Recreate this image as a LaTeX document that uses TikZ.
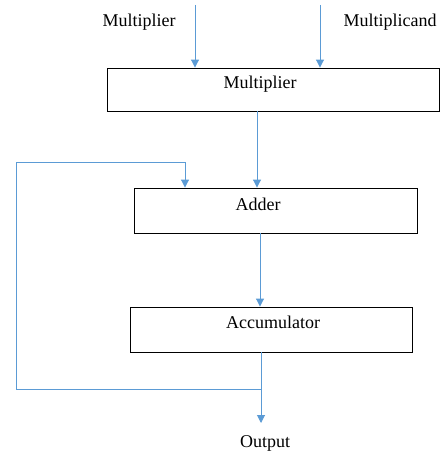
\documentclass[tikz,border=0pt]{standalone}
\usepackage{fontspec}
\setmainfont{Liberation Serif}
\usetikzlibrary{arrows.meta}
\definecolor{lineblue}{RGB}{91,155,213}
\begin{document}
\begin{tikzpicture}[x=1pt,y=-1pt,
  blk/.style={draw=black, line width=0.9pt, rectangle, inner sep=0pt},
  conn/.style={draw=lineblue, line width=1pt},
  arr/.style={conn, -{Triangle[length=8pt,width=8pt]}},
  txt/.style={font=\fontsize{18}{20}\selectfont, inner sep=0pt}]
\useasboundingbox (0,0) rectangle (440,454);
% boxes
\node[blk, minimum width=332pt, minimum height=43pt] (mult) at (273,89.5) {};
\node[blk, minimum width=283pt, minimum height=45pt] (add) at (275.5,210.5) {};
\node[blk, minimum width=282pt, minimum height=45pt] (acc) at (271,329.5) {};
% box texts
\node[txt] (multt) at (260,84) {Multiplier};
\node[txt] (addt) at (258,204) {Adder};
\node[txt] (acct) at (273,322) {Accumulator};
% outside labels
\node[txt] (lin1) at (139,22) {Multiplier};
\node[txt] (lin2) at (390,22) {Multiplicand};
\node[txt] (lout) at (265,443) {Output};
% coordinates
\coordinate (in1) at (195,5);
\coordinate (in2) at (320,5);
\coordinate (m2a) at (257,111);
\coordinate (a2c) at (260,233);
\coordinate (cout) at (261,352);
\coordinate (junc) at (261,389);
\coordinate (out) at (261,423);
\coordinate (fbl) at (16,389);
\coordinate (fbt) at (16,163);
\coordinate (fbr) at (185,163);
% connectors
\draw[arr] (in1) -- (in1 |- mult.north);
\draw[arr] (in2) -- (in2 |- mult.north);
\draw[arr] (m2a) -- (m2a |- add.north);
\draw[arr] (a2c) -- (a2c |- acc.north);
\draw[arr] (cout) -- (out);
\draw[arr] (junc) -- (fbl) -- (fbt) -- (fbr) -- (fbr |- add.north);
\end{tikzpicture}
\end{document}
